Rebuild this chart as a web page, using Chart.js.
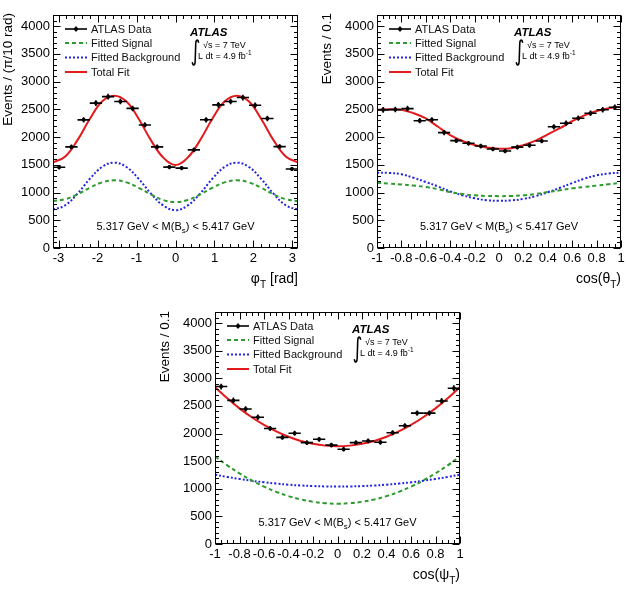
<!DOCTYPE html>
<html><head><meta charset="utf-8">
<script src="https://cdn.jsdelivr.net/npm/chart.js@4.4.1/dist/chart.umd.min.js"></script>
<style>
html,body{margin:0;padding:0;background:#fff;}
body{width:628px;height:603px;position:relative;overflow:hidden;}
.p{position:absolute;}
</style></head>
<body>
<div class="p" style="left:0;top:0;"><canvas id="c1" width="314" height="300"></canvas></div>
<div class="p" style="left:314px;top:0;"><canvas id="c2" width="314" height="300"></canvas></div>
<div class="p" style="left:150px;top:300px;"><canvas id="c3" width="330" height="303"></canvas></div>
<script>
// ---------- data ----------
const phiBins = [-2.985, -2.670, -2.356, -2.042, -1.728, -1.414, -1.100, -0.785, -0.471, -0.157, 0.157, 0.471, 0.785, 1.100, 1.414, 1.728, 2.042, 2.356, 2.670, 2.985];
const phiData = [1455, 1822, 2310, 2612, 2728, 2640, 2516, 2218, 1822, 1458, 1440, 1768, 2311, 2580, 2640, 2712, 2572, 2335, 1828, 1424];
const phiErr  = [38, 43, 48, 51, 52, 51, 50, 47, 43, 38, 38, 42, 48, 51, 51, 52, 51, 48, 43, 38];
const phiCurveX = [-3.142, -2.827, -2.513, -2.199, -1.885, -1.571, -1.257, -0.942, -0.628, -0.314, 0, 0.314, 0.628, 0.942, 1.257, 1.571, 1.885, 2.199, 2.513, 2.827, 3.142];
const phiTotal  = [1545, 1650, 1945, 2325, 2640, 2745, 2640, 2325, 1940, 1630, 1497, 1630, 1940, 2325, 2640, 2745, 2640, 2325, 1945, 1650, 1545];
const phiSignal = [845, 880, 968, 1085, 1183, 1220, 1183, 1085, 963, 865, 827, 865, 963, 1085, 1183, 1220, 1183, 1085, 968, 880, 845];
const phiBackground = [690, 770, 980, 1245, 1460, 1539, 1460, 1245, 980, 767, 682, 767, 980, 1245, 1460, 1539, 1460, 1245, 980, 770, 690];

const cosBins = [-0.95, -0.85, -0.75, -0.65, -0.55, -0.45, -0.35, -0.25, -0.15, -0.05, 0.05, 0.15, 0.25, 0.35, 0.45, 0.55, 0.65, 0.75, 0.85, 0.95];
const cosCurveX = [-1, -0.9, -0.8, -0.7, -0.6, -0.5, -0.4, -0.3, -0.2, -0.1, 0, 0.1, 0.2, 0.3, 0.4, 0.5, 0.6, 0.7, 0.8, 0.9, 1];

const thetaData = [2490, 2495, 2512, 2295, 2311, 2080, 1935, 1887, 1838, 1785, 1748, 1818, 1852, 1930, 2185, 2250, 2340, 2430, 2493, 2538];
const thetaErr  = [50, 50, 50, 48, 48, 46, 44, 43, 43, 42, 42, 43, 43, 44, 47, 47, 48, 49, 50, 50];
const thetaTotal = [2490, 2500, 2492, 2430, 2335, 2185, 2035, 1928, 1858, 1812, 1790, 1800, 1855, 1935, 2050, 2160, 2285, 2390, 2468, 2518, 2545];
const thetaSignal = [1176, 1160, 1145, 1125, 1100, 1060, 1008, 972, 950, 938, 935, 938, 950, 975, 1008, 1040, 1075, 1100, 1125, 1150, 1176];
const thetaBackground = [1357, 1352, 1330, 1265, 1190, 1110, 1020, 950, 898, 862, 851, 858, 885, 935, 1005, 1085, 1170, 1250, 1310, 1345, 1357];

const psiData = [2850, 2600, 2445, 2295, 2090, 1930, 2005, 1835, 1895, 1790, 1715, 1835, 1865, 1842, 2015, 2140, 2370, 2370, 2590, 2820];
const psiErr  = [53, 51, 49, 48, 46, 44, 45, 43, 43, 42, 41, 43, 43, 43, 45, 46, 49, 49, 51, 53];
const psiTotal = [2840, 2637, 2455, 2294, 2155, 2038, 1941, 1866, 1813, 1781, 1770, 1781, 1813, 1866, 1941, 2038, 2155, 2294, 2455, 2637, 2840];
const psiSignal = [1587, 1424, 1278, 1150, 1039, 944, 867, 807, 764, 739, 730, 739, 764, 807, 867, 944, 1039, 1150, 1278, 1424, 1587];
const psiBackground = [1255, 1214, 1178, 1145, 1117, 1094, 1074, 1059, 1049, 1042, 1040, 1042, 1049, 1059, 1074, 1094, 1117, 1145, 1178, 1214, 1255];

const countTicks = [0, 500, 1000, 1500, 2000, 2500, 3000, 3500, 4000];
const countTickLabels = ['0', '500', '1000', '1500', '2000', '2500', '3000', '3500', '4000'];
const phiTicks = [-3, -2, -1, 0, 1, 2, 3];
const phiTickLabels = ['-3', '-2', '-1', '0', '1', '2', '3'];
const cosTicks = [-1, -0.8, -0.6, -0.4, -0.2, 0, 0.2, 0.4, 0.6, 0.8, 1];
const cosTickLabels = ['-1', '-0.8', '-0.6', '-0.4', '-0.2', '0', '0.2', '0.4', '0.6', '0.8', '1'];

const seriesNames = ['ATLAS Data', 'Fitted Signal', 'Fitted Background', 'Total Fit'];

// ---------- style ----------
const FONT = '"Liberation Sans", Arial, Helvetica, sans-serif';
const RED = '#e31a1c', GREEN = '#2f9a2f', BLUE = '#2424e0';

function txt(ctx, parts, x, y, size, align) {
  const widths = parts.map(p => { ctx.font = (p[1] ? size * 0.72 : size) + 'px ' + FONT; return ctx.measureText(p[0]).width; });
  const total = widths.reduce((s, w) => s + w, 0);
  let cx = align === 'right' ? x - total : align === 'center' ? x - total / 2 : x;
  ctx.textAlign = 'left';
  parts.forEach((p, i) => {
    ctx.font = (p[1] ? size * 0.72 : size) + 'px ' + FONT;
    const dy = p[1] === 'sub' ? size * 0.38 : p[1] === 'sup' ? -size * 0.42 : 0;
    ctx.fillText(p[0], cx, y + dy);
    cx += widths[i];
  });
}

const decor = {
  id: 'decor',
  afterDatasetsDraw(chart) {
    const o = chart.options.plugins.decor;
    const ctx = chart.ctx, a = chart.chartArea, xs = chart.scales.x, ys = chart.scales.y;
    ctx.save();
    // error bars of data
    const ds = chart.data.datasets[0];
    ctx.strokeStyle = '#000'; ctx.lineWidth = 1.6; ctx.setLineDash([]);
    ds.data.forEach((p, i) => {
      const px = xs.getPixelForValue(p.x), py = ys.getPixelForValue(p.y);
      ctx.beginPath();
      ctx.moveTo(xs.getPixelForValue(p.x - o.half), py);
      ctx.lineTo(xs.getPixelForValue(p.x + o.half), py);
      ctx.moveTo(px, ys.getPixelForValue(p.y - o.err[i]));
      ctx.lineTo(px, ys.getPixelForValue(p.y + o.err[i]));
      ctx.stroke();
    });
    // frame
    ctx.lineWidth = 1;
    const L = Math.round(a.left) + 0.5, R = Math.round(a.right) - 0.5, T = Math.round(a.top) + 0.5, B = Math.round(a.bottom) - 0.5;
    ctx.strokeRect(L, T, R - L, B - T);
    // ticks
    ctx.beginPath();
    const xMaj = o.xMajor, yMaj = countTicks;
    const isMaj = (v, arr) => arr.some(m => Math.abs(m - v) < 1e-6);
    for (let v = Math.ceil((xs.min - 1e-9) / o.xMinor) * o.xMinor; v <= xs.max + 1e-9; v += o.xMinor) {
      const len = isMaj(v, xMaj) ? 7 : 3.5;
      const px = Math.round(xs.getPixelForValue(v)) + 0.5;
      ctx.moveTo(px, B); ctx.lineTo(px, B - len);
      ctx.moveTo(px, T); ctx.lineTo(px, T + len);
    }
    for (let v = 0; v <= ys.max + 1e-9; v += 100) {
      const len = isMaj(v, yMaj) ? 7 : 3.5;
      const py = Math.round(ys.getPixelForValue(v)) + 0.5;
      ctx.moveTo(L, py); ctx.lineTo(L + len, py);
      ctx.moveTo(R, py); ctx.lineTo(R - len, py);
    }
    ctx.stroke();

    // legend
    const rows = [14, 28, 42.5, 57];
    const lx0 = a.left + 12, lx1 = a.left + 34, tx = a.left + 38;
    const styles = [
      {c: '#000', dash: [], w: 1.6},
      {c: GREEN, dash: [4, 3], w: 2},
      {c: BLUE, dash: [2, 2], w: 2},
      {c: RED, dash: [], w: 2}
    ];
    ctx.textBaseline = 'middle';
    seriesNames.forEach((nm, i) => {
      const y = a.top + rows[i];
      const s = styles[i];
      ctx.beginPath(); ctx.setLineDash(s.dash); ctx.strokeStyle = s.c; ctx.lineWidth = s.w;
      ctx.moveTo(lx0, y); ctx.lineTo(lx1, y); ctx.stroke();
      ctx.setLineDash([]);
      if (i === 0) {
        ctx.beginPath(); ctx.moveTo((lx0 + lx1) / 2, y - 2.5); ctx.lineTo((lx0 + lx1) / 2, y + 2.5); ctx.stroke();
        ctx.beginPath(); ctx.arc((lx0 + lx1) / 2, y, 2, 0, Math.PI * 2); ctx.fillStyle = '#000'; ctx.fill();
      }
      ctx.fillStyle = '#111'; ctx.font = '11px ' + FONT; ctx.textAlign = 'left';
      ctx.fillText(nm, tx, y + 0.5);
    });

    // ATLAS label
    ctx.textBaseline = 'alphabetic'; ctx.fillStyle = '#000';
    ctx.font = 'italic bold 11.5px ' + FONT; ctx.textAlign = 'left';
    ctx.fillText('ATLAS', a.left + 137, a.top + 21);
    ctx.save();
    ctx.translate(a.left + 137.5, a.top + 38);
    ctx.scale(1, 1.45);
    ctx.font = '19px "DejaVu Sans", ' + FONT; ctx.textBaseline = 'middle';
    ctx.fillText('\u222B', 0, 0);
    ctx.restore();
    ctx.textBaseline = 'alphabetic';
    txt(ctx, [['\u221As = 7 TeV', '']], a.left + 150, a.top + 32.5, 9, 'left');
    txt(ctx, [['L dt = 4.9 fb', ''], ['-1', 'sup']], a.left + 145, a.top + 43.5, 9, 'left');

    // mass window label
    ctx.textBaseline = 'middle';
    txt(ctx, [['5.317 GeV < M(B', ''], ['s', 'sub'], [') < 5.417 GeV', '']], (a.left + a.right) / 2, a.bottom - 21, 11, 'center');
    ctx.restore();
  },
  afterDraw(chart) {
    const o = chart.options.plugins.decor;
    const ctx = chart.ctx, a = chart.chartArea;
    ctx.save();
    ctx.fillStyle = '#000';
    ctx.translate(o.yTitleX, o.yTitleEnd);
    ctx.rotate(-Math.PI / 2);
    ctx.textBaseline = 'middle'; ctx.textAlign = 'right';
    ctx.font = '13.5px ' + FONT;
    ctx.fillText(o.yTitle, 0, 0);
    ctx.setTransform(1, 0, 0, 1, 0, 0);
    ctx.textBaseline = 'alphabetic';
    txt(ctx, o.xTitle, a.right, a.bottom + 35, 14, 'right');
    ctx.restore();
  }
};

function makePanel(id, p) {
  const pts = (xs, ys) => xs.map((x, i) => ({x: x, y: ys[i]}));
  return new Chart(document.getElementById(id), {
    type: 'line',
    data: {
      datasets: [
        {label: seriesNames[0], data: pts(p.bins, p.data), showLine: false, pointRadius: 2, pointBackgroundColor: '#000', pointBorderWidth: 0, borderColor: '#000'},
        {label: seriesNames[3], data: pts(p.curveX, p.total), borderColor: RED, borderWidth: 2, pointRadius: 0, tension: 0.4, fill: false},
        {label: seriesNames[1], data: pts(p.curveX, p.signal), borderColor: GREEN, borderWidth: 2, borderDash: [4, 3], pointRadius: 0, tension: 0.4, fill: false},
        {label: seriesNames[2], data: pts(p.curveX, p.background), borderColor: BLUE, borderWidth: 2, borderDash: [2, 2], pointRadius: 0, tension: 0.4, fill: false}
      ]
    },
    options: {
      responsive: false, animation: false, events: [],
      layout: {padding: {top: p.padTop, right: p.padRight, left: 0, bottom: 0}},
      scales: {
        x: {
          type: 'linear', min: p.xMin, max: p.xMax,
          grid: {display: false, drawTicks: false}, border: {display: false},
          afterBuildTicks: s => { s.ticks = p.xTicks.map(v => ({value: v})); },
          afterFit: s => { s.height = p.xAxisH; },
          ticks: {autoSkip: false, maxRotation: 0, minRotation: 0, padding: 3, color: '#000',
                  font: {family: FONT, size: 13}, callback: (v, i) => p.xTickLabels[i]}
        },
        y: {
          type: 'linear', min: 0, max: 4200,
          grid: {display: false, drawTicks: false}, border: {display: false},
          afterBuildTicks: s => { s.ticks = countTicks.map(v => ({value: v})); },
          afterFit: s => { s.width = p.yAxisW; },
          ticks: {autoSkip: false, padding: 3, color: '#000',
                  font: {family: FONT, size: 13}, callback: (v, i) => countTickLabels[i]}
        }
      },
      plugins: {
        legend: {display: false}, tooltip: {enabled: false},
        decor: {half: p.half, err: p.err, xMajor: p.xTicks, xMinor: p.xMinor,
                yTitle: p.yTitle, yTitleX: p.yTitleX, yTitleEnd: p.yTitleEnd, xTitle: p.xTitle}
      }
    },
    plugins: [decor]
  });
}

makePanel('c1', {bins: phiBins, data: phiData, err: phiErr, curveX: phiCurveX, total: phiTotal, signal: phiSignal, background: phiBackground,
  xMin: -Math.PI, xMax: Math.PI, xTicks: phiTicks, xTickLabels: phiTickLabels, xMinor: 0.2, half: Math.PI / 20,
  padTop: 15, padRight: 16, yAxisW: 53, xAxisH: 52,
  yTitle: 'Events / (\u03C0/10 rad)', yTitleX: 8.5, yTitleEnd: 13,
  xTitle: [['\u03C6', ''], ['T', 'sub'], [' [rad]', '']]});

makePanel('c2', {bins: cosBins, data: thetaData, err: thetaErr, curveX: cosCurveX, total: thetaTotal, signal: thetaSignal, background: thetaBackground,
  xMin: -1, xMax: 1, xTicks: cosTicks, xTickLabels: cosTickLabels, xMinor: 0.05, half: 0.05,
  padTop: 15, padRight: 7, yAxisW: 63, xAxisH: 52,
  yTitle: 'Events / 0.1', yTitleX: 13.5, yTitleEnd: 13,
  xTitle: [['cos(\u03B8', ''], ['T', 'sub'], [')', '']]});

makePanel('c3', {bins: cosBins, data: psiData, err: psiErr, curveX: cosCurveX, total: psiTotal, signal: psiSignal, background: psiBackground,
  xMin: -1, xMax: 1, xTicks: cosTicks, xTickLabels: cosTickLabels, xMinor: 0.05, half: 0.05,
  padTop: 12, padRight: 20, yAxisW: 65, xAxisH: 59,
  yTitle: 'Events / 0.1', yTitleX: 15, yTitleEnd: 11,
  xTitle: [['cos(\u03C8', ''], ['T', 'sub'], [')', '']]});
</script>
</body></html>
